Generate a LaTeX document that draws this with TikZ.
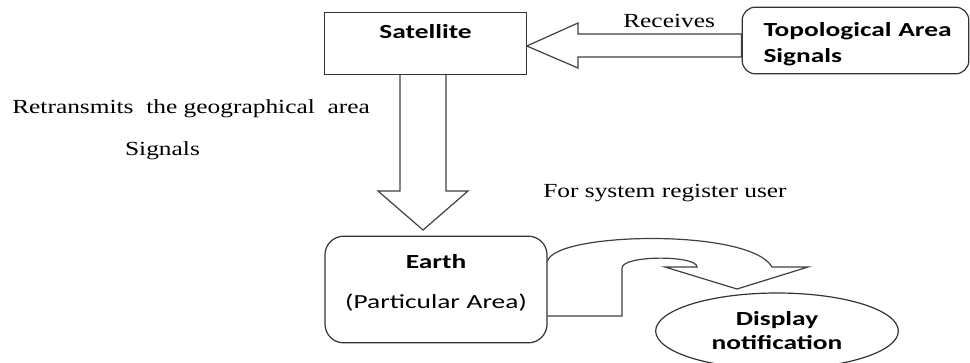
\documentclass[tikz,border=0pt]{standalone}
\usepackage{fontspec}
\setmainfont[FakeStretch=1.27]{Liberation Serif}
\newfontfamily\boxfont[FakeStretch=1.37]{Carlito}
\usetikzlibrary{shapes.geometric}

\begin{document}
\begin{tikzpicture}[
            x=0.75pt, y=-0.75pt,
            boxnode/.style={rectangle, draw=black!80, line width=0.9pt, font=\boxfont\fontsize{15}{18}\selectfont},
            roundbox/.style={boxnode, rounded corners=10pt},
            ovalnode/.style={ellipse, draw=black!80, line width=0.9pt, font=\boxfont\fontsize{15}{18}\selectfont, align=center, inner sep=0pt},
            plaintext/.style={inner sep=0pt, font=\fontsize{15}{18}\selectfont},
            blockarrow/.style={draw=black!75, line width=0.9pt, line join=miter},
            ]
            \useasboundingbox (0,0) rectangle (970,362);

            % boxes
            \node[boxnode, minimum width=151pt, minimum height=46pt, text height=10pt, text depth=17pt]
                (sat) at (425.5,43.5) {\textbf{Satellite}};
            \node[roundbox, minimum width=170pt, minimum height=50pt, text width=138pt, inner xsep=16pt, align=left, text height=15.8pt]
                (topo) at (855.5,40.5) {\mbox{\textbf{Topological Area}}\\[1.5pt]\textbf{Signals}};
            \node[roundbox, rounded corners=14pt, minimum width=166.5pt, minimum height=80pt, text width=150pt, align=center, text depth=42pt]
                (earth) at (436,289.5) {\textbf{Earth}\\[12pt](Particular Area)};
            \node[ovalnode, minimum width=182pt, minimum height=57pt]
                (disp) at (777,331) {\textbf{Display}\\[0pt]\textbf{notification}};

            % texts
            \node[plaintext, anchor=base west] (recv) at (623,27) {Receives};
            \node[plaintext, anchor=base west] (retr) at (12,113) {Retransmits\ \ the geographical\ \ area};
            \node[plaintext, anchor=base] (sig) at (162.5,155) {Signals};
            \node[plaintext, anchor=base west] (reg) at (543,197) {For system register user};

            % block arrows
            \draw[blockarrow] (sat.east |- 0,46) -- (578,23) -- (578,34) -- (topo.west |- 0,34)
                -- (topo.west |- 0,57) -- (578,57) -- (578,68) -- cycle;
            \draw[blockarrow] (400,0 |- sat.south) -- (400,191) -- (378,191) -- (423,230)
                -- (468,191) -- (446,191) -- (446,0 |- sat.south);
            \draw[blockarrow] (earth.east |- 0,261) .. controls (555,232) and (750,228) .. (772,267)
                -- (808,267) -- (737,289) -- (665,267) -- (697,267)
                .. controls (697,255) and (622,255) .. (622,268) -- (622,316) -- (earth.east |- 0,316);
\end{tikzpicture}
\end{document}
